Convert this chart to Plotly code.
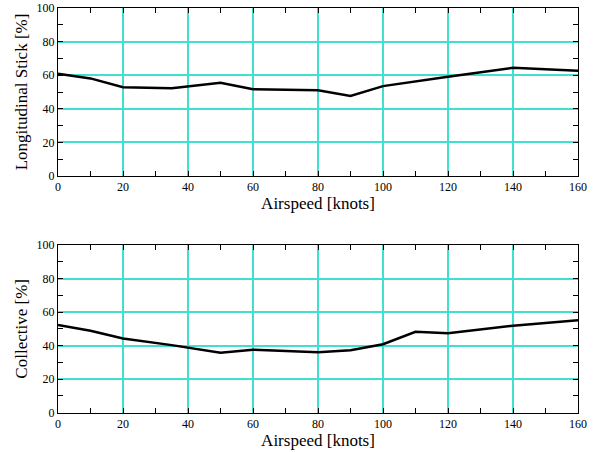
import plotly.graph_objects as go
from plotly.subplots import make_subplots

speed_stick = [0, 10, 20, 35, 50, 60, 80, 90, 100, 110, 120, 140, 160]
long_stick = [60.8, 58.1, 52.9, 52.3, 55.5, 51.6, 51.0, 47.6, 53.5, 56.4, 59.1, 64.4, 62.7]

speed_coll = [0, 10, 20, 35, 50, 60, 80, 90, 100, 110, 120, 140, 160]
collective = [52.3, 48.9, 44.3, 40.3, 35.8, 37.6, 36.1, 37.2, 40.8, 48.2, 47.4, 51.9, 55.2]

x_ticks = [0, 20, 40, 60, 80, 100, 120, 140, 160]
y_ticks = [0, 20, 40, 60, 80, 100]

fig = make_subplots(rows=2, cols=1)
fig.add_trace(go.Scatter(x=speed_stick, y=long_stick, mode="lines",
                         line=dict(color="black", width=2.5), showlegend=False), row=1, col=1)
fig.add_trace(go.Scatter(x=speed_coll, y=collective, mode="lines",
                         line=dict(color="black", width=2.5), showlegend=False), row=2, col=1)

font = dict(family="Liberation Serif", color="black")
xdom = [58 / 598, 578 / 598]
ydoms = [[(452 - 176) / 452, (452 - 8) / 452], [(452 - 412.7) / 452, (452 - 245) / 452]]
ytitles = ["Longitudinal Stick [%]", "Collective [%]"]

for i in range(2):
    xa = "xaxis" if i == 0 else "xaxis2"
    ya = "yaxis" if i == 0 else "yaxis2"
    fig.layout[xa].update(
        domain=xdom, range=[0, 160], tickvals=x_ticks, ticktext=[str(v) for v in x_ticks],
        showgrid=True, gridcolor="#40E0D0", gridwidth=1.5, automargin=False,
        showline=True, linecolor="black", linewidth=1, mirror="ticks",
        ticks="inside", ticklen=5, tickcolor="black", zeroline=False,
        minor=dict(dtick=10, tick0=0, ticks="inside", ticklen=5, tickcolor="black", showgrid=False),
        tickfont=dict(size=12, **font),
        title=dict(text="Airspeed [knots]", font=dict(size=17, **font), standoff=1),
    )
    fig.layout[ya].update(
        domain=ydoms[i], range=[0, 100], tickvals=y_ticks, ticktext=[str(v) for v in y_ticks],
        showgrid=True, gridcolor="#40E0D0", gridwidth=1.5, automargin=False,
        showline=True, linecolor="black", linewidth=1, mirror="ticks",
        ticks="inside", ticklen=5, tickcolor="black", zeroline=False,
        minor=dict(dtick=10, tick0=0, ticks="inside", ticklen=5, tickcolor="black", showgrid=False),
        tickfont=dict(size=12, **font),
        title=dict(text=ytitles[i], font=dict(size=17, **font), standoff=4),
    )

fig.update_layout(width=598, height=452, margin=dict(l=0, r=0, t=0, b=0, autoexpand=False),
                  paper_bgcolor="white", plot_bgcolor="white")
fig.write_html("out.html")
